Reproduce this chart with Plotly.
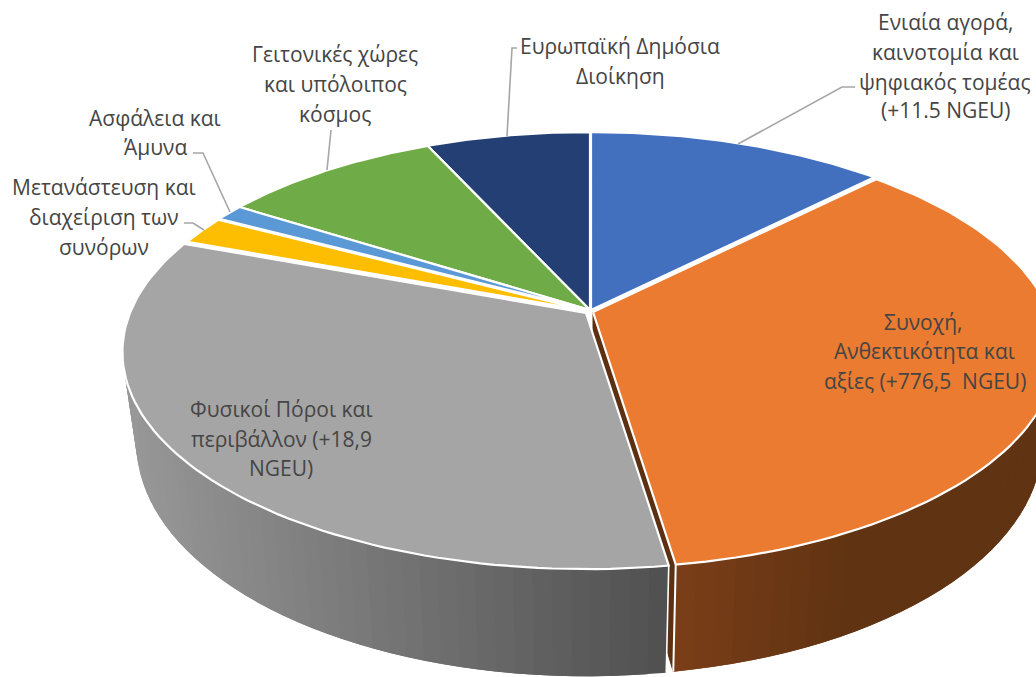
import numpy as np
import plotly.graph_objects as go

# ---- data (share of the pie, billion EUR) ----
categories = ["Ενιαία αγορά, καινοτομία και ψηφιακός τομέας (+11.5 NGEU)",
              "Συνοχή, Ανθεκτικότητα και αξίες (+776,5  NGEU)",
              "Φυσικοί Πόροι και περιβάλλον (+18,9 NGEU)",
              "Μετανάστευση και διαχείριση των συνόρων",
              "Ασφάλεια και Άμυνα",
              "Γειτονικές χώρες και υπόλοιπος κόσμος",
              "Ευρωπαϊκή Δημόσια Διοίκηση"]
values = [132.8, 378.8, 355.4, 22.7, 13.2, 98.4, 73.1]
colors = ["#4270bf", "#ea7b30", "#a5a5a5", "#fdbd00", "#5a99d6", "#6fab46", "#233f73"]

# ---- text lines: text, x centre, y centre ----
label_lines = [
    ("Ενιαία αγορά,", 945, 22), ("καινοτομία και", 945, 52),
    ("ψηφιακός τομέας", 945, 82), ("(+11.5 NGEU)", 945, 110),
    ("Ευρωπαϊκή Δημόσια", 620, 46), ("Διοίκηση", 620, 76),
    ("Γειτονικές χώρες", 335, 54), ("και υπόλοιπος", 335, 84), ("κόσμος", 335, 114),
    ("Ασφάλεια και", 155, 118), ("Άμυνα", 155, 147),
    ("Μετανάστευση και", 104, 187), ("διαχείριση των", 104, 217), ("συνόρων", 104, 247),
    ("Συνοχή,", 923, 322), ("Ανθεκτικότητα και", 924, 351), ("αξίες (+776,5  NGEU)", 925, 381),
    ("Φυσικοί Πόροι και", 281, 409), ("περιβάλλον (+18,9", 281, 439), ("NGEU)", 281, 468),
]
leaders = [
    ([855, 842, 738], [87, 87, 144]),
    ([517, 512, 507], [48, 48, 136]),
    ([331, 327], [130, 170]),
    ([193, 203, 230], [153, 153, 212]),
    ([184, 193, 204], [223, 223, 230]),
]

# ---- projection of the tilted disc ----
CX, CY, A, B, K, H, S = 590, 310, 456, 210, 0.18, 88, 0.97

def top(t, dx=0, dy=0):
    d = 1 + K * np.cos(t)
    return CX + A * np.sin(t) / d + dx, CY - B * np.cos(t) / d + dy

def bot(t, dx=0, dy=0):
    x, y = top(t)
    return CX + S * (x - CX) + dx, y + H / (1 + K * np.cos(t)) + dy

edges = np.radians(np.concatenate([[0], np.cumsum(values)]) / sum(values) * 360)
offsets = [(1, 0), (3, 2), (-4, 3), (-1, 1), (0, 0), (0, 0), (0, 0)]

fig = go.Figure()

def poly(xs, ys, fill, line=None, lw=1.0):
    fig.add_trace(go.Scatter(x=list(xs), y=list(ys), mode="lines", fill="toself",
                             fillcolor=fill, line=dict(color=line or fill, width=lw),
                             hoverinfo="skip", showlegend=False))

def side(i, rgb_of_x):
    t0, t1 = edges[i], edges[i + 1]
    dx, dy = offsets[i]
    ts = np.linspace(t0, t1, 60)
    for k, (a, b) in enumerate(zip(ts[:-1], ts[1:])):
        b2 = ts[min(k + 2, len(ts) - 1)]      # overlap into the next strip to hide seams
        xa, ya = top(a, dx, dy); xb, yb = top(b2, dx, dy)
        xc, yc = bot(b2, dx, dy); xd, yd = bot(a, dx, dy)
        xm = (top(a, dx, dy)[0] + top(b, dx, dy)[0]) / 2
        c = "rgb(%d,%d,%d)" % rgb_of_x(xm)
        poly([xa, xb, xc, xd, xa], [ya, yb, yc, yd, ya], c, lw=0)

def orange_side(x):
    f = min(max((x - 680) / 180, 0), 1)
    return (int(122 - 26 * f), int(62 - 11 * f), int(24 - 6 * f))

def gray_side(x):
    f = min(max((x - 125) / 545, 0), 1)
    v = int(152 - 72 * f)
    return (v, v, v)

# orange: outer wall, cut face
side(1, orange_side)
t = edges[2]
dx, dy = offsets[1]
xr, yr = top(t, dx, dy); xb, yb = bot(t, dx, dy)
poly([CX + dx, xr, xb, CX + dx, CX + dx], [CY + dy, yr, yb, CY + dy + H, CY + dy], "#5c3011")
fig.add_trace(go.Scatter(x=[xr, xb], y=[yr, yb], mode="lines", line=dict(color="white", width=2),
                         hoverinfo="skip", showlegend=False))
# gray: outer wall
side(2, gray_side)
dx, dy = offsets[2]
xr, yr = top(t, dx, dy); xb, yb = bot(t, dx, dy)
fig.add_trace(go.Scatter(x=[xr, xb], y=[yr, yb], mode="lines", line=dict(color="white", width=1.6),
                         hoverinfo="skip", showlegend=False))

# top faces
for i in [0, 6, 5, 4, 3, 1, 2]:
    ts = np.linspace(edges[i], edges[i + 1], 80)
    dx, dy = offsets[i]
    xs, ys = top(ts, dx, dy)
    poly(np.r_[CX + dx, xs, CX + dx], np.r_[CY + dy, ys, CY + dy], colors[i], "white", 2.2)

for lx, ly in leaders:
    fig.add_trace(go.Scatter(x=lx, y=ly, mode="lines", line=dict(color="#a6a6a6", width=1.6),
                             hoverinfo="skip", showlegend=False))

for txt, x, y in label_lines:
    fig.add_annotation(x=x, y=y, text=txt, showarrow=False, xanchor="center", yanchor="middle",
                       font=dict(family="Open Sans", size=21, color="#454545"))

fig.update_layout(width=1036, height=677, margin=dict(l=0, r=0, t=0, b=0),
                  paper_bgcolor="white", plot_bgcolor="white", showlegend=False,
                  xaxis=dict(range=[0, 1036], visible=False, fixedrange=True),
                  yaxis=dict(range=[677, 0], visible=False, fixedrange=True))
fig.write_html("out.html", config=dict(displayModeBar=False),
               post_script="document.body.style.margin='0';document.documentElement.style.overflow='hidden';")
